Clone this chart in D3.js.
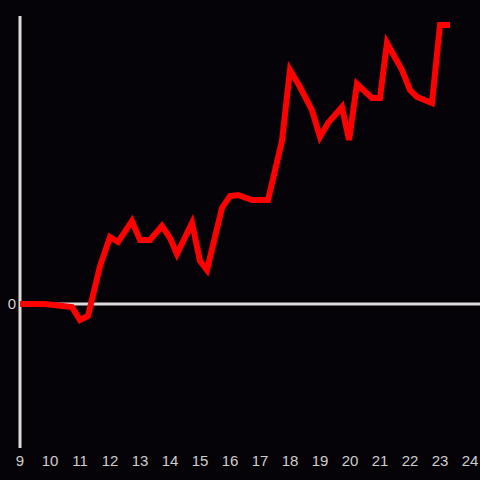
<!DOCTYPE html>
<html><head><meta charset="utf-8">
<script src="https://cdn.jsdelivr.net/npm/d3@7"></script>
<style>html,body{margin:0;padding:0;background:#050308;}svg{display:block;}</style>
</head><body>
<script>
const hours = [9.0,9.833,10.733,11.0,11.267,11.667,12.0,12.267,12.733,13.0,13.333,13.733,14.0,14.233,14.733,15.0,15.233,15.733,16.0,16.267,16.733,17.267,17.733,18.0,18.333,18.733,19.0,19.267,19.733,19.967,20.233,20.733,21.0,21.233,21.733,22.0,22.233,22.733,23.0,23.333];
const values = [0,0,-0.021,-0.111,-0.083,0.264,0.465,0.431,0.576,0.444,0.444,0.542,0.458,0.347,0.563,0.299,0.236,0.667,0.75,0.757,0.722,0.722,1.132,1.625,1.507,1.347,1.16,1.257,1.368,1.139,1.528,1.431,1.431,1.813,1.625,1.486,1.438,1.396,1.938,1.938];
const xTicks = [9,10,11,12,13,14,15,16,17,18,19,20,21,22,23,24];
const yTicks = [0];

const W = 480, H = 480;
const svg = d3.select("body").append("svg").attr("width", W).attr("height", H);
svg.append("rect").attr("width", W).attr("height", H).attr("fill", "#050308");

const x = d3.scaleLinear().domain([9, 24]).range([20, 470]);
const y = d3.scaleLinear().domain([-1, 2]).range([448, 16]);

// y axis line
svg.append("line").attr("x1", x(9)).attr("x2", x(9)).attr("y1", y(-1)).attr("y2", y(2))
  .attr("stroke", "#dcdcdc").attr("stroke-width", 3);
// zero line
svg.append("line").attr("x1", x(9)).attr("x2", W).attr("y1", y(0)).attr("y2", y(0))
  .attr("stroke", "#dcdcdc").attr("stroke-width", 3);

// x tick labels
svg.append("g").selectAll("text").data(xTicks).join("text")
  .attr("x", d => x(d)).attr("y", 466)
  .attr("text-anchor", "middle")
  .attr("font-family", "Liberation Sans, Arial, sans-serif").attr("font-size", 15)
  .attr("fill", "#cfcfcf").text(d => d);

// y tick labels
svg.append("g").selectAll("text").data(yTicks).join("text")
  .attr("x", 16).attr("y", d => y(d)).attr("dy", "0.35em")
  .attr("text-anchor", "end")
  .attr("font-family", "Liberation Sans, Arial, sans-serif").attr("font-size", 15)
  .attr("fill", "#cfcfcf").text(d => d);

const line = d3.line().x((d, i) => x(hours[i])).y(d => y(d));
svg.append("path").datum(values).attr("d", line)
  .attr("fill", "none").attr("stroke", "#ff0000").attr("stroke-width", 6)
  .attr("stroke-linejoin", "miter").attr("stroke-linecap", "butt");
</script>
</body></html>
